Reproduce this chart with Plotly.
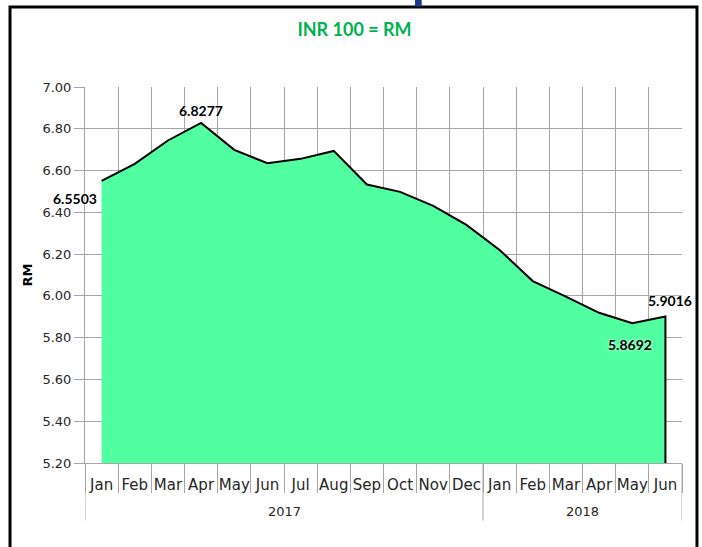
import plotly.graph_objects as go

months = ["Jan", "Feb", "Mar", "Apr", "May", "Jun", "Jul", "Aug", "Sep", "Oct", "Nov", "Dec",
          "Jan", "Feb", "Mar", "Apr", "May", "Jun"]
years = ["2017"] * 12 + ["2018"] * 6
rates = [6.5503, 6.632, 6.744, 6.8277, 6.699, 6.635, 6.656, 6.694, 6.533, 6.498, 6.431, 6.340,
         6.220, 6.071, 5.996, 5.919, 5.8692, 5.9016]
y_ticks = [5.20, 5.40, 5.60, 5.80, 6.00, 6.20, 6.40, 6.60, 6.80, 7.00]
labelled_idx = [0, 3, 16, 17]

FONT = "DejaVu Sans"
LABEL_FONT = "Lato"
GRID = "#A6A6A6"
FILL = "#52FFA0"
ymin, ymax = y_ticks[0], y_ticks[-1]

x = list(range(len(rates)))

fig = go.Figure()
fig.add_trace(go.Scatter(x=x, y=rates, mode="lines", fill="tozeroy", fillcolor=FILL,
                         line=dict(color="rgba(0,0,0,0)", width=0), hoverinfo="skip"))
fig.add_trace(go.Scatter(x=x + [x[-1]], y=rates + [ymin], mode="lines",
                         line=dict(color="black", width=2), hoverinfo="skip"))

# data labels
label_style = {
    0: dict(xanchor="right", yanchor="top", xshift=-3, yshift=-7),
    3: dict(xanchor="center", yanchor="bottom", xshift=0, yshift=2),
    16: dict(xanchor="center", yanchor="top", xshift=-2, yshift=-11),
    17: dict(xanchor="center", yanchor="bottom", xshift=5, yshift=5),
}
for i in labelled_idx:
    st = label_style[i]
    fig.add_annotation(x=x[i], y=rates[i], text=f"{rates[i]:.4f}", showarrow=False,
                       font=dict(family=LABEL_FONT, size=14, color="black", weight="bold",
                                 shadow="0 0 3px white"),
                       **st)

# year labels and dividers
uniq_years = []
for yv in years:
    if yv not in uniq_years:
        uniq_years.append(yv)
bounds = [-0.5]
for yv in uniq_years:
    idx = [i for i, v in enumerate(years) if v == yv]
    fig.add_annotation(x=sum(idx) / len(idx), y=-0.1288, yref="paper", text=yv, showarrow=False,
                       font=dict(family=FONT, size=13, color="#262626"), yanchor="middle")
    bounds.append(idx[-1] + 0.5)
for b in bounds:
    fig.add_shape(type="line", x0=b, x1=b, xref="x", y0=0, y1=-0.153, yref="paper",
                  line=dict(color=GRID, width=1))

# outer frame and blue mark at top
fig.add_shape(type="rect", xref="paper", yref="paper", x0=-0.1256, x1=1.0251, y0=-0.35, y1=1.2126,
              line=dict(color="black", width=3), layer="above")
fig.add_shape(type="rect", xref="paper", yref="paper", x0=0.5528, x1=0.5640, y0=1.2139, y1=1.25,
              line=dict(width=0), fillcolor="#1F3A8A", layer="above")

fig.update_layout(
    width=702, height=547,
    margin=dict(l=85, r=20, t=87, b=84),
    paper_bgcolor="white", plot_bgcolor="white",
    showlegend=False,
    title=dict(text="<b>INR 100 = RM</b>", x=0.505, xref="container", xanchor="center",
               y=1 - 30 / 547, yref="container", yanchor="middle",
               font=dict(family="Lato", size=18, color="#00B050")),
    font=dict(family=FONT, size=13, color="#262626"),
)
fig.update_xaxes(range=[-0.5, len(rates) - 0.5], tickmode="array", tickvals=x, ticktext=months,
                 ticks="outside", ticklen=8, tickcolor="rgba(0,0,0,0)",
                 showgrid=False, showline=True, linecolor=GRID, linewidth=1, zeroline=False,
                 minor=dict(tick0=-0.5, dtick=1, showgrid=True, gridcolor=GRID, gridwidth=1,
                            ticks="outside", ticklen=29, tickcolor=GRID, tickwidth=1),
                 tickfont=dict(family=FONT, size=15, color="#262626"))
fig.update_yaxes(range=[ymin, ymax], tickmode="array", tickvals=y_ticks,
                 ticktext=[f"{v:.2f}" for v in y_ticks],
                 ticks="outside", ticklen=10, tickcolor=GRID, showgrid=True, gridcolor=GRID,
                 gridwidth=1, showline=True, linecolor=GRID, zeroline=False,
                 title=dict(text="<b>RM</b>", standoff=6, font=dict(family=FONT, size=13, color="black")),
                 tickfont=dict(family=FONT, size=13, color="#262626"))

fig.write_html("out.html", config={"displayModeBar": False},
               post_script="document.body.style.margin='0';")
